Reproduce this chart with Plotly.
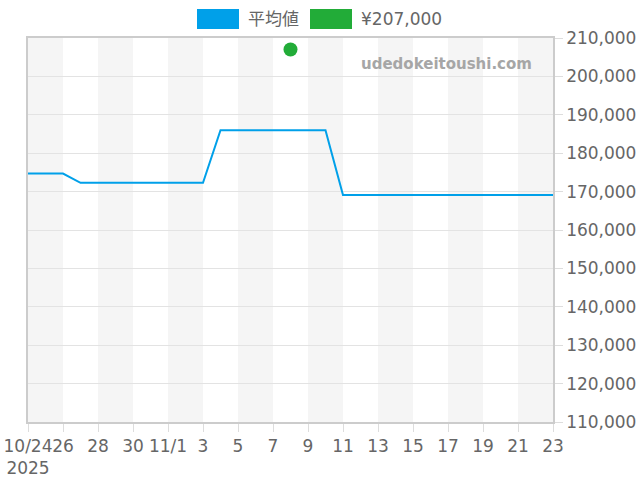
import plotly.graph_objects as go

# daily average price
dates = [
    "2025-10-24", "2025-10-25", "2025-10-26", "2025-10-27", "2025-10-28",
    "2025-10-29", "2025-10-30", "2025-10-31", "2025-11-01", "2025-11-02",
    "2025-11-03", "2025-11-04", "2025-11-05", "2025-11-06", "2025-11-07",
    "2025-11-08", "2025-11-09", "2025-11-10", "2025-11-11", "2025-11-12",
    "2025-11-13", "2025-11-14", "2025-11-15", "2025-11-16", "2025-11-17",
    "2025-11-18", "2025-11-19", "2025-11-20", "2025-11-21", "2025-11-22",
    "2025-11-23",
]
avg_price = [
    174700, 174700, 174700, 172300, 172300,
    172300, 172300, 172300, 172300, 172300,
    172300, 186000, 186000, 186000, 186000,
    186000, 186000, 186000, 169100, 169100,
    169100, 169100, 169100, 169100, 169100,
    169100, 169100, 169100, 169100, 169100,
    169100,
]

# single listing
listing_date = ["2025-11-08"]
listing_price = [207000]

tick_dates = [
    "2025-10-24", "2025-10-26", "2025-10-28", "2025-10-30", "2025-11-01",
    "2025-11-03", "2025-11-05", "2025-11-07", "2025-11-09", "2025-11-11",
    "2025-11-13", "2025-11-15", "2025-11-17", "2025-11-19", "2025-11-21",
    "2025-11-23",
]
tick_labels = [
    "10/24<br>2025", "26", "28", "30", "11/1", "3", "5", "7", "9", "11",
    "13", "15", "17", "19", "21", "23",
]
y_ticks = list(range(110000, 210001, 10000))

BLUE = "#00a0e9"
GREEN = "#22ac38"
TXT = "#666666"
FONT = "DejaVu Sans, Noto Sans CJK JP"

W, H = 640, 480
L, R, T, B = 28, 87, 38, 58


def px(x):
    return (x - L) / (W - L - R)


def py(y):
    return (H - B - y) / (H - T - B)


fig = go.Figure()

fig.add_trace(go.Scatter(
    x=dates, y=avg_price, mode="lines",
    line=dict(color=BLUE, width=2), showlegend=False, hoverinfo="skip"))

fig.add_trace(go.Scatter(
    x=listing_date, y=listing_price, mode="markers",
    marker=dict(color=GREEN, size=14), showlegend=False, hoverinfo="skip"))

# alternating background bands, every other 2-day block
shapes = []
for i in range(0, len(tick_dates) - 1, 2):
    shapes.append(dict(
        type="rect", xref="x", yref="paper", layer="below",
        x0=tick_dates[i], x1=tick_dates[i + 1], y0=0, y1=1,
        fillcolor="#f5f5f5", line=dict(width=0)))

# legend boxes drawn by hand
shapes.append(dict(type="rect", xref="paper", yref="paper",
                   x0=px(197), x1=px(239), y0=py(29), y1=py(9),
                   fillcolor=BLUE, line=dict(width=0)))
shapes.append(dict(type="rect", xref="paper", yref="paper",
                   x0=px(310), x1=px(352), y0=py(29), y1=py(9),
                   fillcolor=GREEN, line=dict(width=0)))

annotations = [
    dict(text="平均値", xref="paper", yref="paper", x=px(246), y=py(19),
         xanchor="left", yanchor="middle", showarrow=False,
         font=dict(family=FONT, size=17, color=TXT)),
    dict(text="¥207,000", xref="paper", yref="paper", x=px(359), y=py(19),
         xanchor="left", yanchor="middle", showarrow=False,
         font=dict(family=FONT, size=17, color=TXT)),
    dict(text="<b>udedokeitoushi.com</b>", xref="paper", yref="paper",
         x=px(446), y=py(64), xanchor="center", yanchor="middle",
         showarrow=False, font=dict(family="DejaVu Sans", size=15, color="#a6a6a6")),
]

fig.update_layout(
    width=W, height=H,
    margin=dict(l=L, r=R, t=T, b=B, autoexpand=False),
    paper_bgcolor="white", plot_bgcolor="white",
    font=dict(family=FONT, size=17, color=TXT),
    shapes=shapes, annotations=annotations,
    xaxis=dict(
        type="date", range=[tick_dates[0], tick_dates[-1]],
        tickvals=tick_dates, ticktext=tick_labels, tickangle=0,
        automargin=False,
        showgrid=False, zeroline=False,
        showline=True, mirror=True, linecolor="#cccccc", linewidth=1.5,
        ticks="outside", ticklen=8, tickcolor="#dddddd",
        tickfont=dict(size=17, color=TXT)),
    yaxis=dict(
        side="right", range=[110000, 210000], tickvals=y_ticks,
        tickformat=",d", automargin=False,
        showgrid=True, gridcolor="#e3e3e3", gridwidth=1,
        zeroline=False,
        showline=True, mirror=True, linecolor="#cccccc", linewidth=1.5,
        ticks="outside", ticklen=8, tickcolor="#dddddd",
        tickfont=dict(size=17, color=TXT)),
)

# drop the page's default body margin so the figure sits at the window corner
fig.write_html("out.html", config={"displayModeBar": False},
               post_script="document.body.style.margin='0';")
